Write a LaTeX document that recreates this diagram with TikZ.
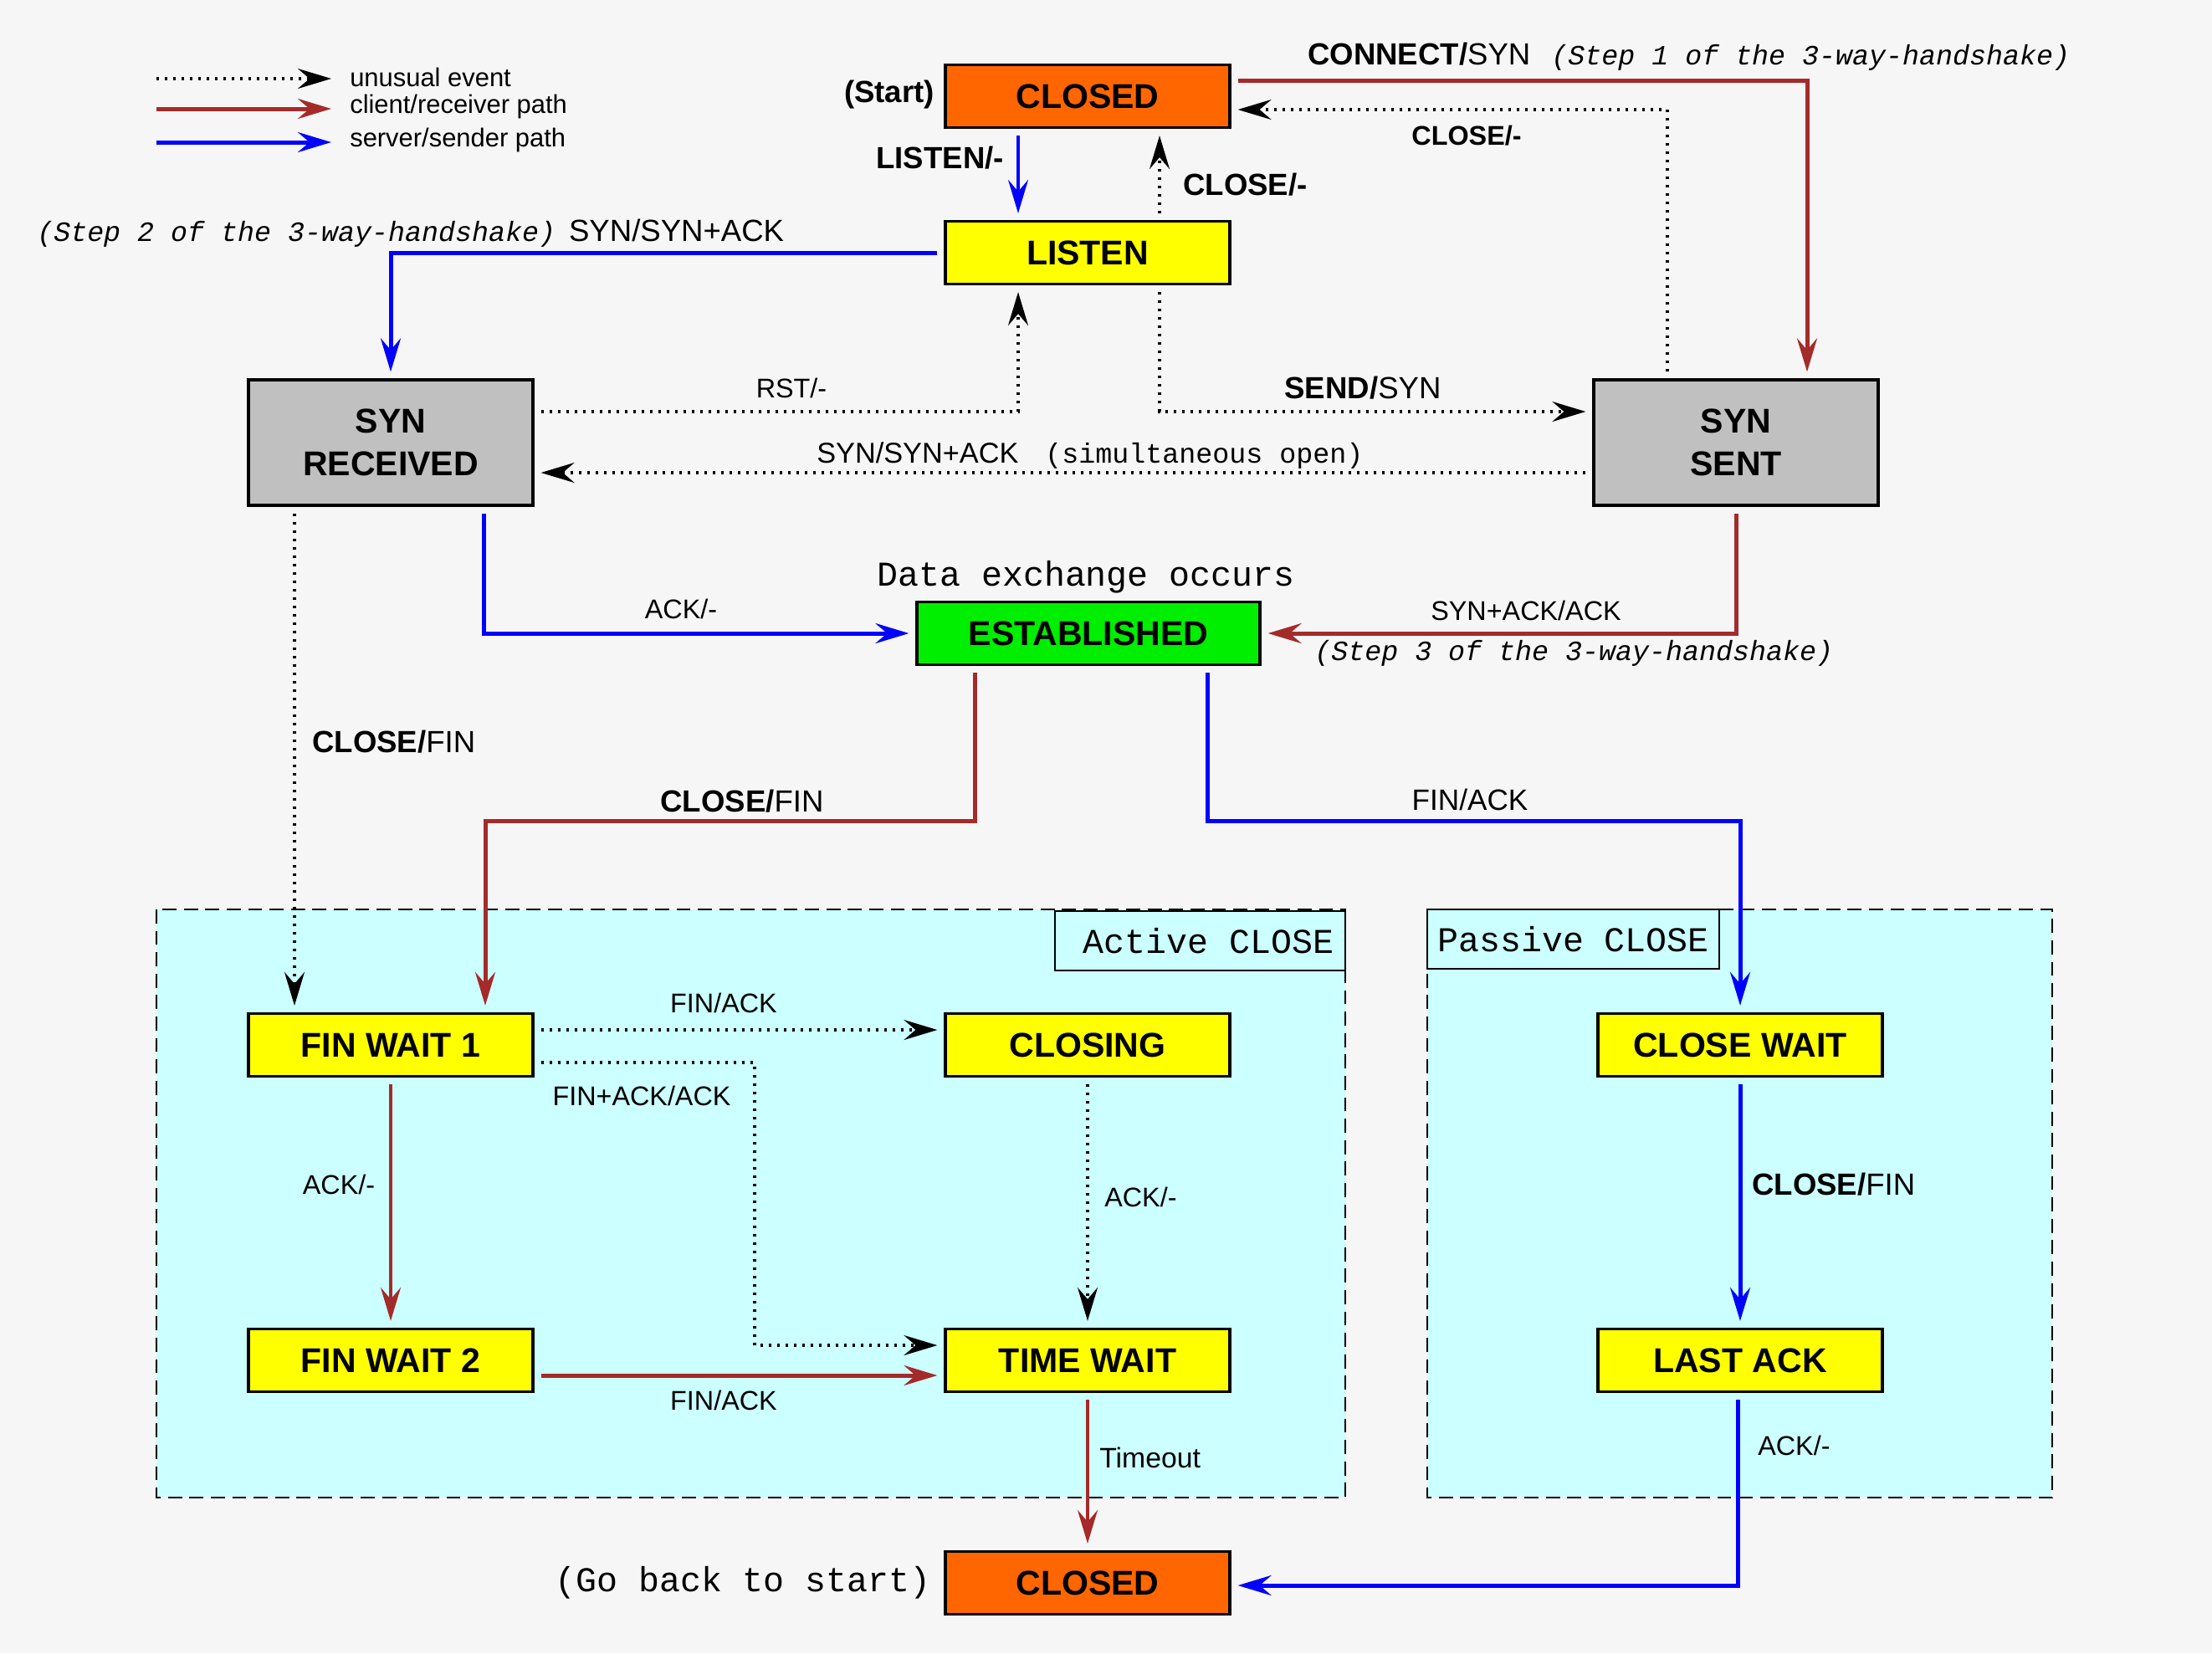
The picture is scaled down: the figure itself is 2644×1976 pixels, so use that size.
\documentclass[tikz,border=0pt]{standalone}
\usepackage{fontspec}
\setmainfont{Liberation Sans}
\setmonofont{Liberation Mono}
\usetikzlibrary{arrows.meta,calc}
\definecolor{tcpred}{HTML}{A52A2A}
\definecolor{tcpblue}{HTML}{0000FF}
\definecolor{tcporange}{HTML}{FF6600}
\definecolor{tcpyellow}{HTML}{FFFF00}
\definecolor{tcpgreen}{HTML}{00EE00}
\definecolor{tcpgray}{HTML}{C0C0C0}
\definecolor{tcpcyan}{HTML}{CCFFFF}
\definecolor{tcpbg}{HTML}{F6F6F6}
\newcommand\tcpbox{\fontsize{29.2}{36}\selectfont\bfseries}
\newcommand\tcplbl{\fontsize{23}{28}\selectfont}
\newcommand\tcpbig{\fontsize{26}{31}\selectfont}
\newcommand\tcpleg{\fontsize{22}{26}\selectfont}
\newcommand\tcpmono{\fontsize{29.6}{35}\ttfamily\selectfont}
\newcommand\tcpmonos{\fontsize{23.7}{28}\ttfamily\selectfont}
\begin{document}
\begin{tikzpicture}[x=0.25mm,y=-0.25mm,
  state/.style={draw=black, line width=0.8mm, inner sep=0pt, minimum width=85mm, minimum height=18.75mm, font=\tcpbox, align=center},
  tip/.style={-{Stealth[length=10mm,width=6mm,inset=3.5mm]}},
  gap/.style={shorten >=2mm, shorten <=2mm},
  redline/.style={tip, draw=tcpred, line width=1.25mm},
  redthin/.style={tip, draw=tcpred, line width=0.85mm},
  blueline/.style={tip, draw=tcpblue, line width=1.25mm},
  bluethin/.style={tip, draw=tcpblue, line width=0.85mm},
  dotline/.style={tip, draw=black, line width=0.8mm, dash pattern=on 0.8mm off 1.7mm},
  region/.style={draw=black, fill=tcpcyan, line width=0.6mm, dash pattern=on 4.2mm off 2.2mm},
  tag/.style={draw=black, fill=tcpcyan, line width=0.6mm, inner sep=0pt, font=\tcpmono},
  lbl/.style={inner sep=0pt, font=\tcplbl},
  big/.style={inner sep=0pt, font=\tcpbig},
]
\fill[tcpbg] (0,0) rectangle (2644,1976);
\useasboundingbox (0,0) rectangle (2644,1976);

% regions
\draw[region] (187,1087) rectangle (1608,1790);
\draw[region] (1706,1087) rectangle (2453,1790);
\node[tag, minimum width=86.75mm, minimum height=17.75mm] (actTag) at (1434.5,1124.5) {\hspace{5mm}Active CLOSE};
\node[tag, minimum width=87.25mm, minimum height=17.75mm] (pasTag) at (1880.5,1122.5) {Passive CLOSE};

% states
\node[state, fill=tcporange] (closedT) at (1300,115) {CLOSED};
\node[state, fill=tcpyellow] (listen) at (1300,302) {LISTEN};
\node[state, fill=tcpgray, minimum height=37.5mm] (synrcvd) at (467,529) {SYN\\RECEIVED};
\node[state, fill=tcpgray, minimum height=37.5mm] (synsent) at (2075,529) {SYN\\SENT};
\node[state, fill=tcpgreen, minimum width=102.5mm] (estab) at (1301,757) {ESTABLISHED};
\node[state, fill=tcpyellow] (fw1) at (467,1249) {FIN WAIT 1};
\node[state, fill=tcpyellow] (closing) at (1300,1249) {CLOSING};
\node[state, fill=tcpyellow] (closewait) at (2080,1249) {CLOSE WAIT};
\node[state, fill=tcpyellow] (fw2) at (467,1626) {FIN WAIT 2};
\node[state, fill=tcpyellow] (timewait) at (1300,1626) {TIME WAIT};
\node[state, fill=tcpyellow] (lastack) at (2080,1626) {LAST ACK};
\node[state, fill=tcporange] (closedB) at (1300,1892) {CLOSED};

% connectors
\draw[bluethin, gap] ($(closedT.south)+(-83,0)$) -- ($(listen.north)+(-83,0)$);
\draw[dotline, gap] ($(listen.north)+(86,0)$) -- ($(closedT.south)+(86,0)$);
\draw[redline, gap] ($(closedT.east)+(0,-19)$) -| ($(synsent.north)+(85,0)$);
\draw[dotline, gap] ($(synsent.north)+(-82,0)$) |- ($(closedT.east)+(0,16)$);
\draw[blueline, gap] (listen.west) -| (synrcvd.north);
\draw[dotline, gap] ($(synrcvd.east)+(0,-37)$) -| ($(listen.south)+(-83,0)$);
\draw[dotline, gap] ($(listen.south)+(86,0)$) |- ($(synsent.west)+(0,-37)$);
\draw[dotline, gap] ($(synsent.west)+(0,36)$) -- ($(synrcvd.east)+(0,36)$);
\draw[blueline, gap] ($(synrcvd.south)+(111,0)$) |- (estab.west);
\draw[redline, gap] (synsent.south) |- (estab.east);
\coordinate (midY) at (0,981);
\coordinate (e1) at ($(estab.south)+(-136,0)$);
\coordinate (e2) at ($(estab.south)+(142,0)$);
\draw[redline, gap] (e1) -- (e1 |- midY) -| ($(fw1.north)+(113,0)$);
\draw[blueline, gap] (e2) -- (e2 |- midY) -| (closewait.north);
\draw[dotline, gap] ($(synrcvd.south)+(-115,0)$) -- ($(fw1.north)+(-115,0)$);
\draw[dotline, gap] ($(fw1.east)+(0,-18)$) -- ($(closing.west)+(0,-18)$);
\coordinate (fcol) at (902,0);
\coordinate (f1) at ($(fw1.east)+(0,21)$);
\draw[dotline, gap] (f1) -- (f1 -| fcol) |- ($(timewait.west)+(0,-18)$);
\draw[redthin, gap] (fw1.south) -- (fw2.north);
\draw[dotline, gap] (closing.south) -- (timewait.north);
\draw[redline, gap] ($(fw2.east)+(0,18)$) -- ($(timewait.west)+(0,18)$);
\draw[redthin, gap] (timewait.south) -- (closedB.north);
\draw[blueline, gap] (closewait.south) -- (lastack.north);
\draw[blueline, gap] ($(lastack.south)+(-3,0)$) |- ($(closedB.east)+(0,3)$);

% legend
\coordinate (lgA1) at (187,94);  \coordinate (lgB1) at (396,94);
\coordinate (lgA2) at (187,130); \coordinate (lgB2) at (396,130);
\coordinate (lgA3) at (187,170); \coordinate (lgB3) at (396,170);
\draw[dotline] (lgA1) -- (lgB1);
\draw[redline] (lgA2) -- (lgB2);
\draw[blueline] (lgA3) -- (lgB3);
\node[anchor=west, inner sep=0pt, font=\tcpleg] (lg1) at (418,92) {unusual event};
\node[anchor=west, inner sep=0pt, font=\tcpleg] (lg2) at (418,127) {client/receiver path};
\node[anchor=west, inner sep=0pt, font=\tcpleg] (lg3) at (418,167) {server/sender path};

% labels
\node[anchor=east, inner sep=0pt, font=\tcpbig\bfseries] (tListen) at (1200,189) {LISTEN/-};
\node[anchor=west, inner sep=0pt, font=\tcpbig\bfseries] (tCl1) at (1414,221) {CLOSE/-};
\node[anchor=east, inner sep=0pt, font=\tcpbig\bfseries] (tStart) at (1117,113) {(Start)};
\node[anchor=base west, big] (tConn) at (1563,77) {{\bfseries CONNECT/}SYN\hspace{6.25mm}{\tcpmonos\itshape (Step 1 of the 3-way-handshake)}};
\node[inner sep=0pt, font=\tcplbl\bfseries] (tCl2) at (1753,162) {CLOSE/-};
\node[anchor=base west, big] (tStep2) at (44,288) {{\tcpmonos\itshape (Step 2 of the 3-way-handshake)}\hspace{4mm}SYN/SYN+ACK};
\node[lbl] (tRst) at (946,464) {RST/-};
\node[big] (tSend) at (1629,464) {{\bfseries SEND/}SYN};
\node[anchor=base west, inner sep=0pt, font=\fontsize{24.4}{29}\selectfont] (tSim) at (976,553) {SYN/SYN+ACK\hspace{8mm}{\tcpmonos (simultaneous open)}};
\node[lbl] (tAck1) at (814,728) {ACK/-};
\node[lbl] (tSynAck) at (1824,730) {SYN+ACK/ACK};
\node[anchor=west, inner sep=0pt, font=\tcpmonos\itshape] (tStep3) at (1571,781) {(Step 3 of the 3-way-handshake)};
\node[inner sep=0pt, font=\tcpmono] (tData) at (1298,690) {Data exchange occurs};
\node[big] (tCF1) at (887,958) {{\bfseries CLOSE/}FIN};
\node[inner sep=0pt, font=\fontsize{25}{30}\selectfont] (tFA1) at (1757,956) {FIN/ACK};
\node[anchor=west, big] (tCF2) at (373,887) {{\bfseries CLOSE/}FIN};
\node[lbl] (tFA2) at (865,1199) {FIN/ACK};
\node[lbl] (tFAA) at (767,1310) {FIN+ACK/ACK};
\node[lbl] (tAck2) at (405,1416) {ACK/-};
\node[anchor=west, lbl] (tAck3) at (1320,1431) {ACK/-};
\node[lbl] (tFA3) at (865,1674) {FIN/ACK};
\node[anchor=west, inner sep=0pt, font=\fontsize{24}{29}\selectfont] (tTime) at (1314,1742) {Timeout};
\node[anchor=west, big] (tCF3) at (2094,1416) {{\bfseries CLOSE/}FIN};
\node[anchor=west, lbl] (tAck4) at (2101,1728) {ACK/-};
\node[anchor=east, inner sep=0pt, font=\tcpmono] (tGo) at (1113,1892) {(Go back to start)};
\end{tikzpicture}
\end{document}
